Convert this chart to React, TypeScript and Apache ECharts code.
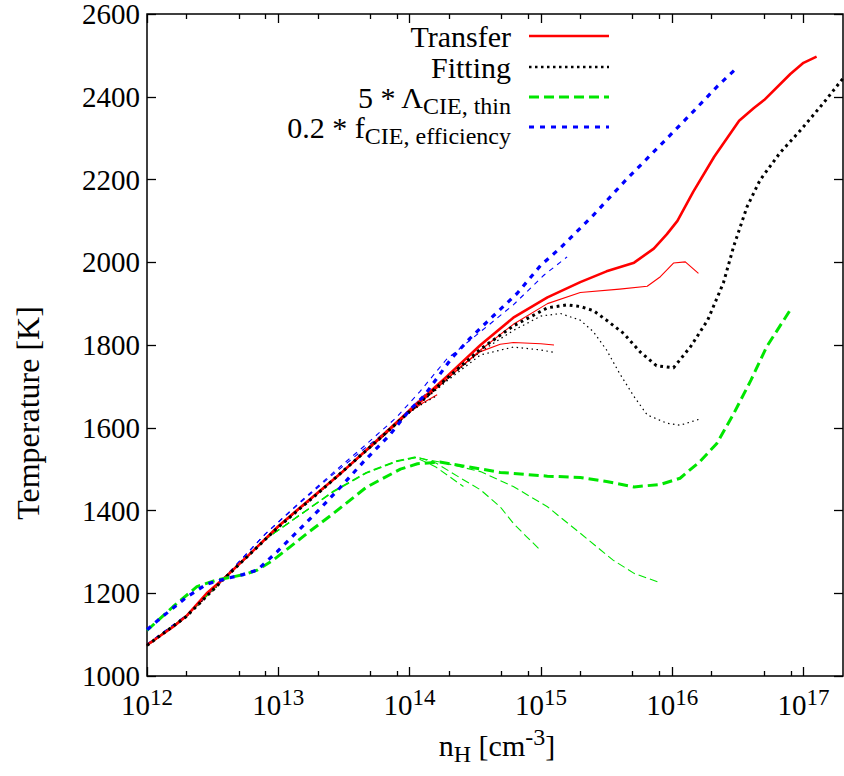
import React, { useEffect, useRef } from "react";
import * as echarts from "echarts";

const FONT = '"Liberation Serif", "Times New Roman", serif';

// ---- data: log10(n_H [cm^-3]) and Temperature [K] ----
// Transfer (red, solid)
const transferMainLogN = [12.0, 12.2, 12.3, 12.455, 12.6, 12.8, 13.0, 13.14, 13.3, 13.47, 13.78, 14.03, 14.28, 14.54, 14.79, 15.05, 15.3, 15.5, 15.71, 15.86, 15.96, 16.04, 16.16, 16.32, 16.51, 16.62, 16.7, 16.9, 17.0, 17.1];
const transferMainT = [1075, 1119, 1145, 1200, 1240, 1300, 1362, 1400, 1443, 1488, 1578, 1651, 1723, 1800, 1866, 1915, 1952, 1978, 1999, 2033, 2068, 2100, 2170, 2255, 2342, 2372, 2392, 2455, 2482, 2497];
const transferALogN = [12.0, 12.3, 12.6, 13.0, 13.3, 13.78, 14.03, 14.28, 14.54, 14.79, 15.05, 15.3, 15.6, 15.81, 15.91, 16.01, 16.1, 16.2];
const transferAT = [1073, 1144, 1240, 1361, 1442, 1577, 1649, 1717, 1788, 1850, 1900, 1927, 1935, 1942, 1965, 1998, 2001, 1973];
const transferBLogN = [12.0, 12.3, 12.6, 13.0, 13.3, 13.78, 14.03, 14.23, 14.39, 14.54, 14.69, 14.79, 15.0, 15.1];
const transferBT = [1074, 1145, 1240, 1361, 1442, 1576, 1646, 1702, 1748, 1784, 1802, 1806, 1803, 1800];
const transferCLogN = [12.0, 12.3, 12.6, 13.0, 13.3, 13.78, 14.0, 14.1, 14.21];
const transferCT = [1074, 1144, 1239, 1360, 1441, 1574, 1638, 1660, 1680];

// Fitting (black, dotted)
const fittingMainLogN = [12.0, 12.3, 12.6, 13.0, 13.3, 13.78, 14.03, 14.28, 14.54, 14.79, 15.05, 15.2, 15.3, 15.4, 15.5, 15.63, 15.76, 15.88, 16.01, 16.14, 16.27, 16.39, 16.47, 16.57, 16.67, 16.82, 16.98, 17.15, 17.31];
const fittingMainT = [1074, 1144, 1239, 1360, 1441, 1576, 1648, 1718, 1790, 1846, 1890, 1897, 1893, 1883, 1860, 1828, 1782, 1750, 1745, 1796, 1860, 1950, 2040, 2134, 2199, 2264, 2320, 2384, 2448];
const fittingALogN = [12.0, 12.3, 12.6, 13.0, 13.3, 13.78, 14.03, 14.28, 14.54, 14.79, 15.0, 15.15, 15.3, 15.4, 15.5, 15.6, 15.71, 15.81, 15.96, 16.06, 16.2];
const fittingAT = [1073, 1144, 1239, 1360, 1441, 1576, 1647, 1715, 1784, 1835, 1870, 1876, 1860, 1832, 1788, 1731, 1675, 1631, 1611, 1606, 1620];
const fittingBLogN = [12.0, 12.3, 12.6, 13.0, 13.3, 13.78, 14.03, 14.28, 14.54, 14.79, 15.0, 15.1];
const fittingBT = [1073, 1144, 1239, 1360, 1441, 1575, 1645, 1712, 1776, 1795, 1788, 1782];
const fittingCLogN = [12.0, 12.3, 12.6, 13.0, 13.3, 13.78, 14.0, 14.1, 14.2];
const fittingCT = [1073, 1144, 1239, 1360, 1441, 1574, 1637, 1658, 1676];

// 5 * Lambda_CIE,thin (green, dashed)
const lambdaMainLogN = [12.0, 12.2, 12.38, 12.53, 12.66, 12.76, 12.84, 12.96, 13.09, 13.22, 13.42, 13.67, 13.93, 14.06, 14.23, 14.44, 14.69, 15.05, 15.3, 15.5, 15.71, 15.91, 16.06, 16.21, 16.34, 16.47, 16.6, 16.72, 16.9];
const lambdaMainT = [1110, 1168, 1216, 1232, 1240, 1247, 1256, 1280, 1312, 1345, 1393, 1456, 1500, 1513, 1517, 1506, 1492, 1483, 1480, 1470, 1457, 1463, 1478, 1518, 1562, 1635, 1715, 1796, 1885];
const lambdaALogN = [12.0, 12.3, 12.6, 12.9, 13.17, 13.42, 13.67, 13.9, 14.05, 14.25, 14.54, 14.79, 15.05, 15.3, 15.55, 15.71, 15.91];
const lambdaAT = [1075, 1145, 1240, 1330, 1390, 1445, 1490, 1518, 1528, 1516, 1494, 1458, 1409, 1345, 1280, 1248, 1225];
const lambdaBLogN = [12.0, 12.3, 12.6, 12.9, 13.17, 13.42, 13.67, 13.9, 14.05, 14.2, 14.39, 14.54, 14.69, 14.79, 14.89, 15.0];
const lambdaBT = [1075, 1145, 1240, 1330, 1391, 1447, 1492, 1520, 1530, 1515, 1478, 1450, 1409, 1369, 1337, 1303];
const lambdaCLogN = [12.0, 12.3, 12.6, 12.9, 13.17, 13.42, 13.67, 13.9, 14.05, 14.2, 14.41];
const lambdaCT = [1075, 1145, 1240, 1330, 1390, 1446, 1491, 1519, 1528, 1505, 1458];

// 0.2 * f_CIE,efficiency (blue, dashed)
const effMainLogN = [12.0, 12.1, 12.3, 12.455, 12.61, 12.73, 12.84, 12.99, 13.12, 13.32, 13.47, 13.65, 13.85, 14.0, 14.11, 14.32, 14.46, 14.59, 14.82, 15.0, 15.15, 15.4, 15.66, 15.91, 16.16, 16.34, 16.49];
const effMainT = [1112, 1139, 1190, 1222, 1236, 1245, 1256, 1300, 1341, 1405, 1455, 1518, 1583, 1643, 1677, 1768, 1816, 1856, 1925, 1993, 2035, 2114, 2203, 2283, 2364, 2424, 2469];
const effALogN = [12.0, 12.3, 12.6, 12.9, 13.17, 13.42, 13.67, 13.9, 14.08, 14.28, 14.54, 14.79, 15.02, 15.2];
const effAT = [1077, 1147, 1242, 1343, 1422, 1492, 1560, 1625, 1688, 1765, 1832, 1897, 1968, 2013];
const effBLogN = [12.0, 12.3, 12.6, 12.9, 13.17, 13.42, 13.67, 13.9, 14.05, 14.15];
const effBT = [1077, 1147, 1242, 1343, 1420, 1488, 1553, 1612, 1660, 1690];

// ---- axes ----
const xMajorTicks = [1e12, 1e13, 1e14, 1e15, 1e16, 1e17];
const xMinorTicks = [2e12, 5e12, 8e12, 2e13, 5e13, 8e13, 2e14, 5e14, 8e14, 2e15, 5e15, 8e15, 2e16, 5e16, 8e16];
const xMin = 1e12;
const xMax = 2e17;
const yMin = 1000;
const yMax = 2600;
const yStep = 200;

const RED = "#ff0000";
const BLACK = "#000000";
const GREEN = "#00e600";
const BLUE = "#0000ff";

function pts(logN: number[], t: number[]) {
  return logN.map((v, i) => [Math.pow(10, v), t[i]]);
}

function line(name: string, logN: number[], t: number[], color: string, width: number, dash: any) {
  return {
    name,
    type: "line",
    data: pts(logN, t),
    showSymbol: false,
    symbol: "none",
    xAxisIndex: 0,
    yAxisIndex: 0,
    lineStyle: { color, width, type: dash, cap: "butt", join: "round" },
    silent: true,
    z: 3,
  };
}

export default function App() {
  const ref = useRef<HTMLDivElement>(null);
  useEffect(() => {
    if (!ref.current) return;
    const chart = echarts.init(ref.current, undefined, { renderer: "svg" });

    const supFmt = (v: number) => "{m|10}{p|" + Math.round(Math.log10(v)) + "}";
    const tickRich = {
      m: { fontSize: 29, fontFamily: FONT, color: "#000", lineHeight: 30 },
      p: { fontSize: 23, fontFamily: FONT, color: "#000", lineHeight: 23, padding: [0, 0, 16, 0] },
    };
    const legendRich = {
      m: { fontSize: 30, fontFamily: FONT, color: "#000", lineHeight: 32 },
      s: { fontSize: 24, fontFamily: FONT, color: "#000", lineHeight: 24, padding: [18, 0, 0, 0] },
      p: { fontSize: 24, fontFamily: FONT, color: "#000", lineHeight: 24, padding: [0, 0, 16, 0] },
    };

    const baseX = {
      type: "log",
      logBase: 10,
      min: xMin,
      max: xMax,
      axisLine: { show: false },
      splitLine: { show: false },
      axisLabel: { show: false },
    };

    const legendRows = [
      { text: "{m|Transfer}", color: RED, width: 2.5, dash: [] as number[], y: 36 },
      { text: "{m|Fitting}", color: BLACK, width: 2.5, dash: [2.5, 3.5], y: 67 },
      { text: "{m|5 * Λ}{s|CIE, thin}", color: GREEN, width: 3, dash: [10, 5], y: 97 },
      { text: "{m|0.2 * f}{s|CIE, efficiency}", color: BLUE, width: 3, dash: [5, 6], y: 127 },
    ];

    const graphics: any[] = [];
    legendRows.forEach((r) => {
      graphics.push({
        type: "text",
        x: 511,
        y: r.y,
        silent: true,
        style: { text: r.text, align: "right", verticalAlign: "middle", rich: legendRich },
      });
      graphics.push({
        type: "line",
        silent: true,
        shape: { x1: 529, y1: r.y, x2: 609, y2: r.y },
        style: { stroke: r.color, lineWidth: r.width, lineDash: r.dash.length ? r.dash : null },
      });
    });
    graphics.push({
      type: "text",
      x: 28,
      y: 413,
      rotation: Math.PI / 2,
      silent: true,
      style: { text: "Temperature [K]", fontSize: 32, fontFamily: FONT, fill: "#000", align: "center", verticalAlign: "middle" },
    });
    graphics.push({
      type: "text",
      x: 497,
      y: 745,
      silent: true,
      style: { text: "{m|n}{s|H}{m| [cm}{p|-3}{m|]}", align: "center", verticalAlign: "middle", rich: legendRich },
    });

    const option: any = {
      animation: false,
      backgroundColor: "#ffffff",
      grid: {
        left: 147,
        right: 1,
        top: 14,
        bottom: 100,
        show: true,
        borderColor: "#000",
        borderWidth: 1.5,
        backgroundColor: "transparent",
        containLabel: false,
        outerBoundsMode: "none",
      },
      xAxis: [
        {
          ...baseX,
          position: "bottom",
          axisTick: { show: true, inside: true, length: 9, lineStyle: { color: "#000", width: 1.3 }, customValues: xMajorTicks },
          axisLabel: {
            show: true,
            margin: 14,
            customValues: xMajorTicks,
            formatter: supFmt,
            rich: tickRich,
          },
        },
        {
          ...baseX,
          position: "bottom",
          axisTick: { show: true, inside: true, length: 5, lineStyle: { color: "#000", width: 1.3 }, customValues: xMinorTicks },
        },
        {
          ...baseX,
          position: "top",
          axisTick: { show: true, inside: true, length: 9, lineStyle: { color: "#000", width: 1.3 }, customValues: xMajorTicks },
        },
        {
          ...baseX,
          position: "top",
          axisTick: { show: true, inside: true, length: 5, lineStyle: { color: "#000", width: 1.3 }, customValues: xMinorTicks },
        },
      ],
      yAxis: [
        {
          type: "value",
          min: yMin,
          max: yMax,
          interval: yStep,
          position: "left",
          axisLine: { show: false },
          splitLine: { show: false },
          axisTick: { show: true, inside: true, length: 9, lineStyle: { color: "#000", width: 1.3 } },
          axisLabel: { show: true, margin: 7, fontSize: 29, lineHeight: 24, fontFamily: FONT, color: "#000", formatter: (v: number) => String(v) },
        },
        {
          type: "value",
          min: yMin,
          max: yMax,
          interval: yStep,
          position: "right",
          axisLine: { show: false },
          splitLine: { show: false },
          axisTick: { show: true, inside: true, length: 9, lineStyle: { color: "#000", width: 1.3 } },
          axisLabel: { show: false },
        },
      ],
      series: [
        line("Transfer A", transferALogN, transferAT, RED, 1.1, "solid"),
        line("Transfer B", transferBLogN, transferBT, RED, 1.1, "solid"),
        line("Transfer C", transferCLogN, transferCT, RED, 1.1, "solid"),
        line("Fitting A", fittingALogN, fittingAT, BLACK, 1.2, [1.5, 3.5]),
        line("Fitting B", fittingBLogN, fittingBT, BLACK, 1.2, [1.5, 3.5]),
        line("Fitting C", fittingCLogN, fittingCT, BLACK, 1.2, [1.5, 3.5]),
        line("5 Lambda A", lambdaALogN, lambdaAT, GREEN, 1.1, [8, 4]),
        line("5 Lambda B", lambdaBLogN, lambdaBT, GREEN, 1.1, [8, 4]),
        line("5 Lambda C", lambdaCLogN, lambdaCT, GREEN, 1.1, [8, 4]),
        line("0.2 f A", effALogN, effAT, BLUE, 1.1, [5, 5]),
        line("0.2 f B", effBLogN, effBT, BLUE, 1.1, [5, 5]),
        line("Transfer", transferMainLogN, transferMainT, RED, 2.6, "solid"),
        line("Fitting", fittingMainLogN, fittingMainT, BLACK, 3, [2.8, 3.8]),
        line("5 * Lambda_CIE,thin", lambdaMainLogN, lambdaMainT, GREEN, 3, [10, 5]),
        line("0.2 * f_CIE,efficiency", effMainLogN, effMainT, BLUE, 3.2, [5, 6]),
      ],
      graphic: graphics,
    };
    chart.setOption(option);
    return () => chart.dispose();
  }, []);
  return <div ref={ref} style={{ position: "absolute", left: 0, top: 0, width: 844, height: 776 }} />;
}
